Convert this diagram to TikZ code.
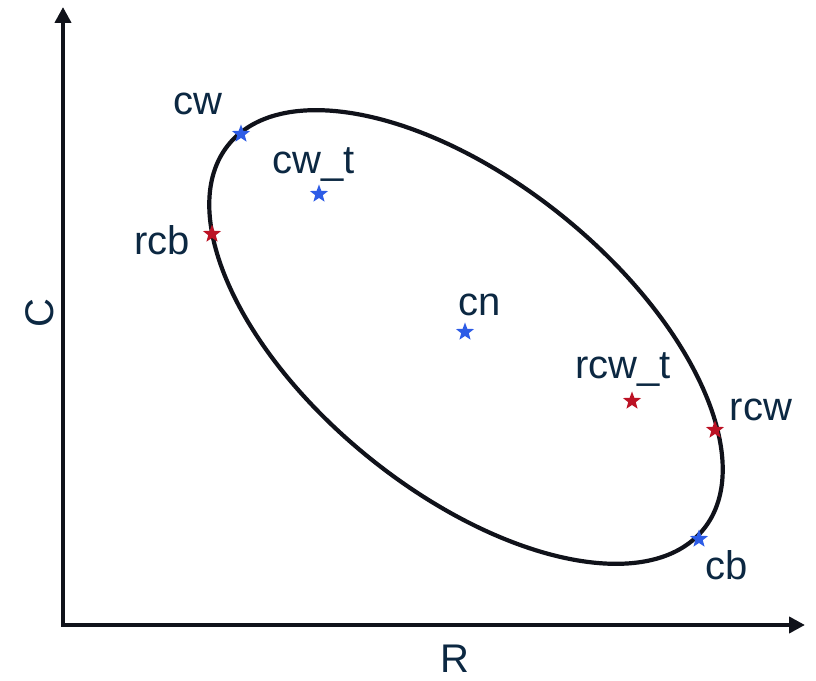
\documentclass[tikz,border=0pt]{standalone}
\usepackage{fontspec}
\setmainfont{Liberation Sans}
\usetikzlibrary{shapes.geometric, arrows.meta}
\definecolor{InkNavy}{RGB}{12, 40, 66}
\definecolor{StarBlue}{RGB}{45, 92, 230}
\definecolor{StarRed}{RGB}{188, 18, 36}
\definecolor{CurveBlack}{RGB}{16, 18, 26}

\begin{document}
\begin{tikzpicture}[x=0.5pt, y=0.5pt,
    starmark/.style={star, star points=5, star point ratio=2.4, inner sep=0pt, minimum size=9.5pt},
    lbl/.style={text=InkNavy, font=\fontsize{20}{24}\selectfont, inner sep=0pt}]
    \useasboundingbox (0,0) rectangle (816,681);
    % axes
    \coordinate (O) at (63,56);
    \coordinate (ytip) at (63,674);
    \coordinate (xtip) at (805,56);
    \draw[line width=2pt, CurveBlack, -{Triangle[length=8pt, width=8pt]}] (O) -- (ytip);
    \draw[line width=2pt, CurveBlack, -{Triangle[length=8pt, width=8pt]}] ([xshift=-1pt]O) -- (xtip);
    \node[lbl, rotate=90] (clabel) at (40,368) {C};
    \node[lbl] (rlabel) at (455,22) {R};
    % ellipse
    \coordinate (ctr) at (466,344);
    \draw[line width=2.1pt, CurveBlack, rotate around={-39:(ctr)}] (ctr) ellipse [x radius=305.6, y radius=154.7];
    % points
    \foreach \nm/\x/\y/\col in {cw/241/547/StarBlue, cwt/319/487/StarBlue, rcb/212/447/StarRed,
        cn/465/349/StarBlue, rcwt/632/280/StarRed, rcw/715/251/StarRed, cb/699/142/StarBlue} {
      \node[starmark, fill=\col] (\nm) at (\x,\y) {};
    }
    \node[lbl] (cwlabel) at (198,577) {cw};
    \node[lbl] (cwtlabel) at (314,516) {cw\_t};
    \node[lbl] (rcblabel) at (162,441) {rcb};
    \node[lbl] (cnlabel) at (480,376) {cn};
    \node[lbl] (rcwtlabel) at (623,311) {rcw\_t};
    \node[lbl] (rcwlabel) at (761,271) {rcw};
    \node[lbl] (cblabel) at (727,116) {cb};
  \end{tikzpicture}
\end{document}
